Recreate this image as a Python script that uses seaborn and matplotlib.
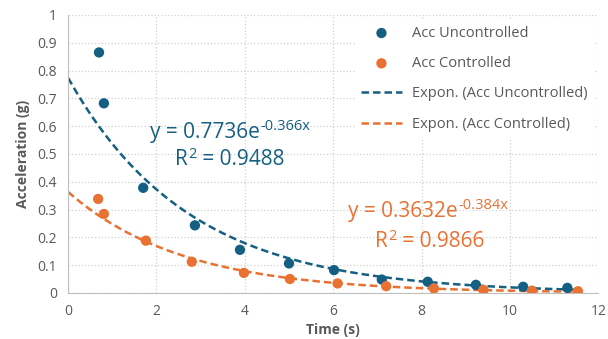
import numpy as np
import pandas as pd
import seaborn as sns
import matplotlib.pyplot as plt

# Datos
time_unc = [0.70, 0.81, 1.70, 2.87, 3.89, 5.00, 6.02, 7.10, 8.14, 9.23, 10.30, 11.30]
acc_unc = [0.865, 0.682, 0.378, 0.243, 0.155, 0.106, 0.082, 0.048, 0.040, 0.029, 0.022, 0.018]
time_ctl = [0.68, 0.81, 1.76, 2.80, 3.98, 5.02, 6.10, 7.20, 8.28, 9.40, 10.50, 11.54]
acc_ctl = [0.338, 0.284, 0.188, 0.112, 0.072, 0.050, 0.034, 0.024, 0.016, 0.011, 0.008, 0.006]

# Coeficientes de las lineas de tendencia (de las etiquetas)
fit_unc = (0.7736, -0.366, 0.9488)
fit_ctl = (0.3632, -0.384, 0.9866)

BLUE = "#156082"
ORANGE = "#E97132"
GRAY = "#595959"


def equation(ax, x, y, fit, color):
    # ecuacion con exponente en superindice (con guion normal, como Excel)
    t = ax.text(x, y, f"y = {fit[0]}e", color=color, fontsize=15, va="baseline")
    ax.annotate(f"{fit[1]}x", xy=(1, 1), xycoords=t, xytext=(0.5, 2),
                textcoords="offset points", color=color, fontsize=10.5, va="top", ha="left")


def r2(ax, x, y, fit, color):
    t = ax.text(x, y, "R", color=color, fontsize=15, va="baseline")
    s = ax.annotate("2", xy=(1, 1), xycoords=t, xytext=(0.3, 1.5),
                    textcoords="offset points", color=color, fontsize=10.5, va="top", ha="left")
    ax.annotate(f" = {fit[2]}", xy=(1, 0), xycoords=(s, t), xytext=(0, 0),
                textcoords="offset points", color=color, fontsize=15, va="bottom", ha="left")


def run_chart():
    sns.set_style("white")
    plt.rcParams["font.family"] = ["Open Sans", "DejaVu Sans"]

    fig = plt.figure(figsize=(6.08, 3.39), dpi=100)
    ax = fig.add_axes([0.112, 0.136, 0.872, 0.82])

    df_unc = pd.DataFrame({"t": time_unc, "a": acc_unc})
    df_ctl = pd.DataFrame({"t": time_ctl, "a": acc_ctl})

    tt = np.linspace(0, 11.6, 200)
    trend_unc = pd.DataFrame({"t": tt, "a": fit_unc[0] * np.exp(fit_unc[1] * tt)})
    trend_ctl = pd.DataFrame({"t": tt, "a": fit_ctl[0] * np.exp(fit_ctl[1] * tt)})

    sns.scatterplot(data=df_unc, x="t", y="a", color=BLUE, s=55, edgecolor="none",
                    label="Acc Uncontrolled", ax=ax, zorder=3)
    sns.scatterplot(data=df_ctl, x="t", y="a", color=ORANGE, s=55, edgecolor="none",
                    label="Acc Controlled", ax=ax, zorder=3)
    sns.lineplot(data=trend_unc, x="t", y="a", color=BLUE, linewidth=1.8,
                 label="Expon. (Acc Uncontrolled)", ax=ax, zorder=2)
    sns.lineplot(data=trend_ctl, x="t", y="a", color=ORANGE, linewidth=1.8,
                 label="Expon. (Acc Controlled)", ax=ax, zorder=2)
    for ln in ax.lines:
        ln.set_linestyle((0, (3, 1.6)))

    ax.set_xlim(0, 12)
    ax.set_ylim(0, 1)
    ax.set_xticks(range(0, 13, 2))
    ax.set_yticks(np.arange(0, 1.01, 0.1))
    ax.set_yticklabels(["0"] + [f"{v:.1f}" for v in np.arange(0.1, 0.95, 0.1)] + ["1"])
    ax.tick_params(colors=GRAY, labelsize=10, length=0)
    ax.tick_params(axis="x", pad=8)
    ax.tick_params(axis="y", pad=8)
    ax.grid(True, linestyle=":", color="#d0d0d0", linewidth=0.9)
    ax.set_axisbelow(True)
    for side in ["top", "right"]:
        ax.spines[side].set_visible(False)
    for side in ["left", "bottom"]:
        ax.spines[side].set_color("#bfbfbf")

    ax.set_xlabel("Time (s)", color=GRAY, fontsize=10, fontweight="bold", labelpad=3)
    ax.set_ylabel("Acceleration (g)", color=GRAY, fontsize=10, fontweight="bold", labelpad=5)

    # Etiquetas de ecuaciones
    equation(ax, 1.86, 0.558, fit_unc, BLUE)
    r2(ax, 2.42, 0.460, fit_unc, BLUE)
    equation(ax, 6.34, 0.273, fit_ctl, ORANGE)
    r2(ax, 6.95, 0.165, fit_ctl, ORANGE)

    leg = ax.legend(loc="upper right", bbox_to_anchor=(1.0, 1.0), frameon=True,
                    fontsize=10.5, labelcolor=GRAY, handlelength=2.75, handletextpad=0.7,
                    labelspacing=1.05, borderpad=0.4, borderaxespad=0.35)
    leg.get_frame().set_edgecolor("white")
    leg.get_frame().set_facecolor("white")
    leg.get_frame().set_alpha(1)

    fig.savefig("out.png", dpi=100)
    plt.close(fig)


if __name__ == "__main__":
    run_chart()
